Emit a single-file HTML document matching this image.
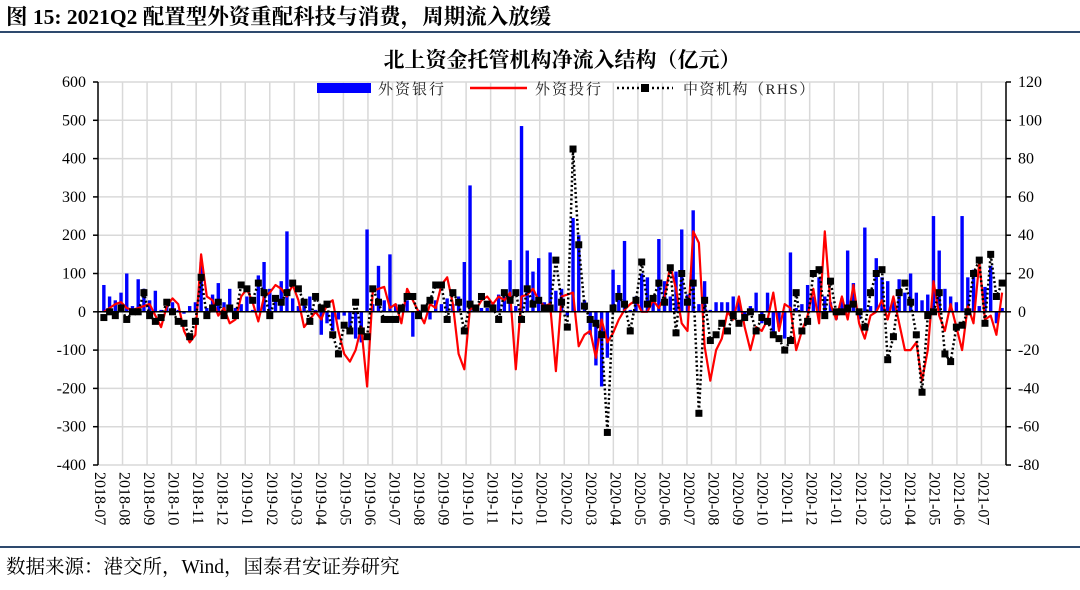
<!DOCTYPE html>
<html><head><meta charset="utf-8">
<style>
html,body{margin:0;padding:0;background:#fff;}
body{width:1080px;height:585px;overflow:hidden;font-family:"Liberation Serif","Noto Serif CJK SC",serif;}
</style></head>
<body>
<svg id="chart" width="1080" height="585" xmlns="http://www.w3.org/2000/svg">
<text x="6" y="24" font-size="21.5" font-weight="bold" fill="#000" font-family="Liberation Serif, Noto Serif CJK SC, serif">图 15:  2021Q2 配置型外资重配科技与消费，周期流入放缓</text>
<line x1="0" y1="32" x2="1080" y2="32" stroke="#2e4a6e" stroke-width="2"/>
<text x="562" y="67" font-size="21" font-weight="bold" text-anchor="middle" font-family="Liberation Serif, Noto Serif CJK SC, serif">北上资金托管机构净流入结构（亿元）</text>
<g id="grid"></g>
<g id="bars"></g>
<g id="lines"></g>
<g id="axes"></g>
<g font-size="15" font-family="Liberation Serif, Noto Serif CJK SC, serif" fill="#222">
  <rect x="317" y="83" width="54" height="10" fill="#0000ff"/>
  <text x="378" y="94" letter-spacing="2">外资银行</text>
  <line x1="470" y1="88" x2="527" y2="88" stroke="#ff0000" stroke-width="2.5"/>
  <text x="535" y="94" letter-spacing="2">外资投行</text>
  <line x1="617" y1="88" x2="673" y2="88" stroke="#000" stroke-width="2.5" stroke-dasharray="2 3"/>
  <rect x="641" y="84" width="8" height="8" fill="#000"/>
  <text x="683" y="94" letter-spacing="1.5">中资机构（RHS）</text>
</g>
<line x1="0" y1="547" x2="1080" y2="547" stroke="#2e4a6e" stroke-width="2"/>
<text x="6" y="573" font-size="19.5" font-family="Liberation Serif, Noto Serif CJK SC, serif">数据来源：港交所，Wind，国泰君安证券研究</text>
</svg>
<script>
const months=["2018-07","2018-08","2018-09","2018-10","2018-11","2018-12","2019-01","2019-02","2019-03","2019-04","2019-05","2019-06","2019-07","2019-08","2019-09","2019-10","2019-11","2019-12","2020-01","2020-02","2020-03","2020-04","2020-05","2020-06","2020-07","2020-08","2020-09","2020-10","2020-11","2020-12","2021-01","2021-02","2021-03","2021-04","2021-05","2021-06","2021-07"];
const leftTicks=[600,500,400,300,200,100,0,-100,-200,-300,-400];
const rightTicks=[120,100,80,60,40,20,0,-20,-40,-60,-80];
const bankValues=[70,40,30,50,100,15,85,60,30,55,5,15,25,5,-5,15,25,130,10,45,75,25,60,10,20,40,5,95,130,60,40,80,210,35,15,20,40,5,-60,-30,-50,-20,-10,-50,-70,-80,215,20,120,30,150,20,10,30,-65,5,15,-20,30,20,35,20,40,130,330,15,10,10,25,45,40,135,15,485,160,105,140,25,155,55,60,-10,245,200,30,-60,-140,-195,-120,110,70,185,5,40,100,90,30,190,80,40,105,215,45,265,20,80,5,25,25,25,40,30,-15,15,50,-30,50,-60,-40,-70,155,10,20,70,40,90,40,25,-20,35,160,75,-20,220,15,140,90,80,30,85,50,100,50,30,45,250,160,60,40,25,250,90,110,15,65,120,-30,10];
const ibValues=[0,10,20,25,10,5,10,15,20,-10,-40,15,35,20,-50,-80,-60,150,40,30,-10,10,-30,-20,40,60,25,-25,40,50,70,60,40,70,30,-40,-20,0,-20,20,30,-50,-110,-130,-100,-40,-195,55,60,65,10,20,-30,60,30,0,-30,20,10,70,90,20,-110,-150,10,5,30,40,20,40,30,50,-150,40,45,60,30,15,20,-155,40,45,50,-90,-60,-50,-120,-20,-80,-55,-20,5,20,30,0,0,30,10,40,120,60,-30,-50,210,180,-90,-180,-100,-70,0,-20,40,-40,-100,-40,-50,-20,50,-50,20,10,-100,-50,-10,60,-30,210,20,-20,40,-20,70,-30,-70,-10,0,30,-20,40,-30,-100,-100,-80,-180,-100,80,-10,-50,20,-40,-100,15,-30,130,-20,-10,-60,50];
const cnValues=[-3,0,-2,2,-4,0,0,10,-2,-5,-3,5,0,-5,-6,-13,-5,18,-2,2,5,-2,2,-2,14,12,6,15,10,-2,7,5,10,15,12,5,-5,8,2,4,-12,-22,-7,-10,5,-10,-13,12,5,-4,-4,-4,2,8,8,-2,2,6,14,14,-4,10,5,-10,4,2,8,4,2,-4,10,6,10,-4,12,4,6,2,2,27,5,-8,85,35,3,-4,-6,-12,-63,2,8,4,-10,6,26,4,7,15,5,23,-11,20,5,15,-53,6,-15,-12,-6,-10,-2,-6,-3,0,-10,-3,-5,-12,-14,-20,-15,10,-10,-5,20,22,-2,16,0,0,2,4,0,-8,10,20,22,-25,-13,10,15,5,-12,-42,-2,0,10,-22,-26,-8,-7,0,20,27,-6,30,8,15];

const NS="http://www.w3.org/2000/svg";
const X0=98,X1=1006,YT=82,YB=465;
const yL=v=>YT+(600-v)*(YB-YT)/1000;
const yR=v=>YT+(120-v)*(YB-YT)/200;
const N=Math.min(bankValues.length,ibValues.length,cnValues.length);
const step=(X1-X0-4)/N;
const xAt=i=>X0+3+step*(i+0.5);
const mw=(X1-X0)/months.length;
function mk(tag,attrs,parent){const e=document.createElementNS(NS,tag);for(const k in attrs)e.setAttribute(k,attrs[k]);parent.appendChild(e);return e;}
const grid=document.getElementById('grid'),axes=document.getElementById('axes'),bars=document.getElementById('bars'),lines=document.getElementById('lines');
leftTicks.forEach((t,i)=>{
  const g=mk('line',{x1:X0,x2:X1,y1:yL(t),y2:yL(t),stroke:'#d9d9d9','stroke-width':1.5},grid);
  
  
  const tx=mk('text',{x:X0-12,y:yL(t)+5,'text-anchor':'end','font-size':16},axes);
  tx.textContent=t;
  
  
  const tk=mk('line',{x1:X0-5,x2:X0,y1:yL(t),y2:yL(t),stroke:'#000','stroke-width':1.5},axes);
  
  
});
rightTicks.forEach(t=>{
  const tx=mk('text',{x:X1+12,y:yR(t)+5,'text-anchor':'start','font-size':16},axes);
  tx.textContent=t;
  
  
  const tk=mk('line',{x1:X1,x2:X1+5,y1:yR(t),y2:yR(t),stroke:'#000','stroke-width':1.5},axes);
  
  
});
months.forEach((m,i)=>{
  const gx=X0+mw*(i+1);
  if(i<months.length-1){
    const g=mk('line',{x1:gx,x2:gx,y1:YT,y2:YB,stroke:'#d9d9d9','stroke-width':1.5},grid);
    
    
  }
  const lx=X0+mw*i-3;
  const tx=mk('text',{x:0,y:0,'font-size':16,transform:`translate(${lx},472) rotate(90)`},axes);
  tx.textContent=m;
  
  
});
for(let i=0;i<N;i++){
  const v=bankValues[i],y0=yL(0),y1=yL(v);
  const r=mk('rect',{x:xAt(i)-1.7,y:Math.min(y0,y1),width:3.4,height:Math.abs(y1-y0),fill:'#0000ff'},bars);
  
  
}
const zl=mk('line',{x1:X0,x2:X1,y1:yL(0),y2:yL(0),stroke:'#000','stroke-width':1.5},axes);


const la=mk('line',{x1:X0,x2:X0,y1:YT,y2:YB,stroke:'#000','stroke-width':1.5},axes);


const ra=mk('line',{x1:X1,x2:X1,y1:YT,y2:YB,stroke:'#000','stroke-width':1.5},axes);


let ibPts=[],cnPts=[];
for(let i=0;i<N;i++){ibPts.push(xAt(i).toFixed(1)+','+yL(ibValues[i]).toFixed(1));cnPts.push(xAt(i).toFixed(1)+','+yR(cnValues[i]).toFixed(1));}
const ib=mk('polyline',{points:ibPts.join(' '),fill:'none',stroke:'#ff0000','stroke-width':2.2,'stroke-linejoin':'round'},lines);


const cn=mk('polyline',{points:cnPts.join(' '),fill:'none',stroke:'#000','stroke-width':2.5,'stroke-dasharray':'2 2.5'},lines);


for(let i=0;i<N;i++){
  const p=mk('rect',{x:xAt(i)-3.5,y:yR(cnValues[i])-3.5,width:7,height:7,fill:'#000'},lines);
  
  
}
</script>
</body></html>
